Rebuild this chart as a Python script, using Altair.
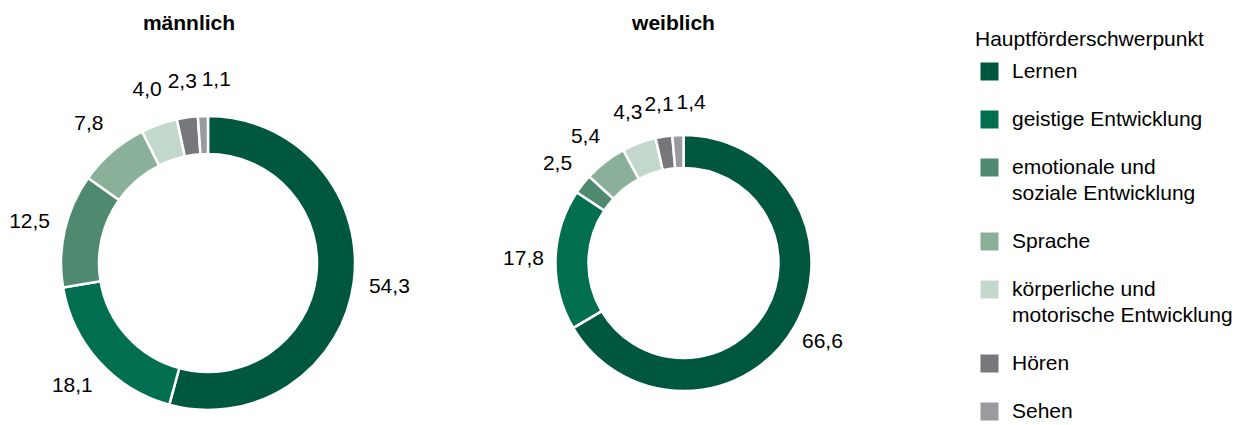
import altair as alt
import pandas as pd

# ---- data ----
categories = [
    "Lernen",
    "geistige Entwicklung",
    "emotionale und soziale Entwicklung",
    "Sprache",
    "körperliche und motorische Entwicklung",
    "Hören",
    "Sehen",
]
legend_lines = {
    "emotionale und soziale Entwicklung": ["emotionale und", "soziale Entwicklung"],
    "körperliche und motorische Entwicklung": ["körperliche und", "motorische Entwicklung"],
}
sexes = ["männlich", "weiblich"]
values_m = [54.3, 18.1, 12.5, 7.8, 4.0, 2.3, 1.1]
values_w = [66.6, 17.8, 2.5, 5.4, 4.3, 2.1, 1.4]
colors = ["#00573F", "#006E4F", "#4F8A70", "#8AB09A", "#C3D8CD", "#76777B", "#9A9B9E"]

rows = []
for sex, vals in zip(sexes, [values_m, values_w]):
    for i, (c, v) in enumerate(zip(categories, vals)):
        rows.append({"Geschlecht": sex, "Schwerpunkt": c, "Anteil": v, "Rang": i,
                     "Label": f"{v:.1f}".replace(".", ",")})
df = pd.DataFrame(rows)
titles = pd.DataFrame({"Geschlecht": sexes})

FONT = "Liberation Sans"
FS = 21

label_expr = " : ".join(
    [f"datum.label == '{k}' ? {v!r}" for k, v in legend_lines.items()] + ["datum.label"]
)

xenc = alt.X("Geschlecht:N", axis=None,
             scale=alt.Scale(type="point", domain=sexes, range=[200, 675.5], padding=0))
yval = alt.value(255)

color = alt.Color(
    "Schwerpunkt:N",
    scale=alt.Scale(domain=categories, range=colors),
    legend=alt.Legend(
        title="Hauptförderschwerpunkt",
        orient="none", legendX=967, legendY=21,
        titleFontSize=FS, titleFontWeight="normal", titleColor="#000000", titleFont=FONT,
        titlePadding=11, titleLimit=400,
        labelFontSize=FS, labelColor="#000000", labelFont=FONT, labelLimit=400,
        labelExpr=label_expr,
        symbolType="square", symbolSize=324, symbolStrokeWidth=0, symbolOpacity=1,
        symbolOffset=4, labelOffset=12, rowPadding=26, padding=0,
    ),
)

theta = alt.Theta("Anteil:Q", stack=True)
order = alt.Order("Rang:Q", sort="ascending")
# the label of the slice that closes the ring at 12 o'clock sits to the right of the top
last_rank = len(categories) - 1
label_align = alt.ExprRef(expr=f"datum.Rang == {last_rank} ? 'left' : 'center'")


def donut(sex, outer, inner, label_r, title_dx):
    base = alt.Chart(df).transform_filter(alt.datum.Geschlecht == sex)
    arcs = base.mark_arc(outerRadius=outer, innerRadius=inner, stroke="white",
                         strokeWidth=2.5).encode(
        theta=theta, order=order, color=color, x=xenc, y=yval)
    labels = base.mark_text(radius=label_r, fontSize=FS, font=FONT, color="#000000",
                            align=label_align).encode(
        theta=theta, order=order, x=xenc, y=yval, text="Label:N")
    title = alt.Chart(titles).transform_filter(alt.datum.Geschlecht == sex).mark_text(
        fontSize=FS, fontWeight="bold", font=FONT, color="#000000",
        baseline="alphabetic", dx=title_dx).encode(
        x=xenc, y=alt.value(22), text="Geschlecht:N")
    return [arcs, labels, title]


layers = donut("männlich", 147, 109, 183, -19) + donut("weiblich", 128, 95, 160, -10)

chart = alt.layer(*layers).properties(
    width=1235, height=416,
    autosize=alt.AutoSizeParams(type="none"),
    padding=0,
).configure(
    font=FONT,
    style={"guide-label": {"lineHeight": 26}},
).configure_view(stroke="transparent")

chart.save("out.html", embed_options={"renderer": "svg", "actions": False})
